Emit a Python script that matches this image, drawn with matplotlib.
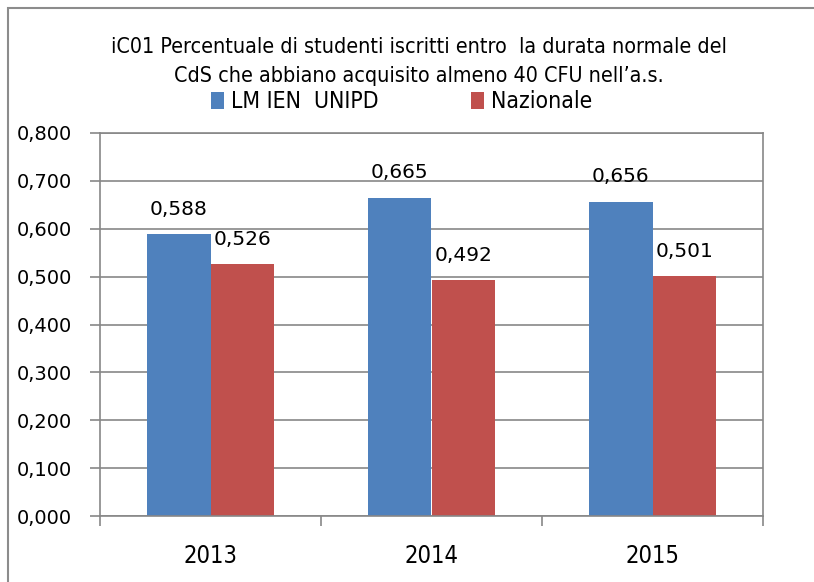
import matplotlib
matplotlib.use("Agg")
import matplotlib.pyplot as plt
from matplotlib.patches import Rectangle
from matplotlib.ticker import FuncFormatter
import numpy as np

years = ["2013", "2014", "2015"]
unipd = [0.588, 0.665, 0.656]
nazionale = [0.526, 0.492, 0.501]
series_names = ["LM IEN  UNIPD", "Nazionale"]
title = ("iC01 Percentuale di studenti iscritti entro  la durata normale del\n"
         "CdS che abbiano acquisito almeno 40 CFU nell\u2019a.s.")

narrow = ["DejaVu Sans"]
blue = "#4F81BD"
red = "#C0504D"
grid = "#878787"

fig = plt.figure(figsize=(8.14, 5.82), dpi=100)
ax = fig.add_axes([100 / 814, 1 - 516 / 582, 663 / 814, 383 / 582])

# outer chart border
fig.patches.append(Rectangle((8 / 814, -0.05), 1.2, 1 - 8 / 582 + 0.05,
                             transform=fig.transFigure, fill=False,
                             edgecolor="#8c8c8c", linewidth=1.5))

x = np.arange(len(years))
w = 0.287
b1 = ax.bar(x - w / 2, unipd, w, color=blue, label=series_names[0])
b2 = ax.bar(x + w / 2, nazionale, w, color=red, label=series_names[1])

fmt = lambda v: f"{v:.3f}".replace(".", ",")
for i in range(len(years)):
    ax.annotate(fmt(unipd[i]), (x[i] - w / 2, unipd[i]), xytext=(0, 18),
                textcoords="offset points", ha="center", va="center", fontsize=14.5)
    ax.annotate(fmt(nazionale[i]), (x[i] + w / 2, nazionale[i]), xytext=(0, 18),
                textcoords="offset points", ha="center", va="center", fontsize=14.5)

ax.set_ylim(0, 0.8)
ax.set_yticks(np.arange(0, 0.81, 0.1))
ax.yaxis.set_major_formatter(FuncFormatter(lambda v, p: fmt(v)))
ax.set_xlim(-0.5, 2.5)
ax.set_xticks(x)
ax.set_xticklabels(years, fontsize=17, family=narrow, stretch="condensed")
ax.set_xticks([-0.5, 0.5, 1.5, 2.5], minor=True)
ax.tick_params(axis="x", which="major", length=0, pad=20)
ax.tick_params(axis="x", which="minor", length=7, color=grid, width=1.2)
ax.tick_params(axis="y", length=7, color=grid, width=1.2, labelsize=14, pad=13)
ax.grid(axis="y", color=grid, linewidth=1.2)
ax.set_axisbelow(True)
for s in ax.spines.values():
    s.set_color(grid)
    s.set_linewidth(1.2)

fig.text(0.515, 0.895, title, ha="center", va="center", fontsize=15.4,
         family=narrow, stretch="condensed", linespacing=1.55)
fig.legend(handles=[b1, b2], loc="center left", bbox_to_anchor=(190 / 814, 0.825), ncol=2,
           frameon=False, prop={"family": narrow, "size": 16.5, "stretch": "condensed"},
           handlelength=0.6, handleheight=0.75, handletextpad=0.3,
           columnspacing=4.0)

fig.savefig("out.png", dpi=100)
